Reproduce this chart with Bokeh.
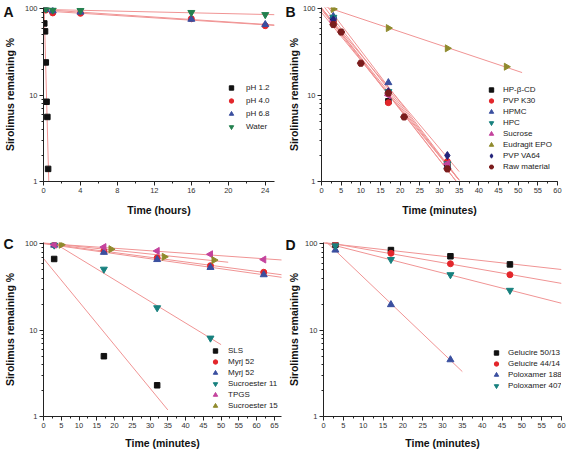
import numpy as np
from bokeh.plotting import figure
from bokeh.models import (Legend, LegendItem, Label, SingleIntervalTicker, FixedTicker,
                          NumeralTickFormatter)
from bokeh.layouts import column, row
from bokeh.embed import file_html
from bokeh.resources import INLINE

FONT = "Liberation Sans"
FIT = "#f09494"

# ---------------- data ----------------
# Panel A: time in hours
a_labels = ["pH 1.2", "pH 4.0", "pH 6.8", "Water"]
a_times = [[0.083, 0.167, 0.25, 0.333, 0.417, 0.5],
           [0.25, 1, 4, 16, 24],
           [0.25, 1, 4, 16, 24],
           [0.25, 1, 4, 16, 24]]
a_values = [[68, 55, 24, 8.4, 5.6, 1.4],
            [97, 90, 89, 77, 64],
            [99, 95, 92, 76, 66],
            [100, 97, 96, 91, 86]]
a_fit_end = [0.7, 25, 25, 25]

# Panel B: time in minutes
b_labels = ["HP-\u03b2-CD", "PVP K30", "HPMC", "HPC", "Sucrose", "Eudragit EPO", "PVP VA64", "Raw material"]
b_times = [[3, 17, 32], [3, 17, 32], [3, 17, 32], [3, 17, 32], [3, 17, 32],
           [3, 17, 32, 47], [3, 17, 32], [3, 5, 10, 17, 21, 32]]
b_values = [[76, 8.5, 1.5], [70, 8.2, 1.7], [82, 14, 1.5], [80, 11, 1.6], [72, 10, 1.6],
            [100, 60, 35, 21.4], [75, 11, 2.0], [66, 54, 23.5, 10.6, 5.6, 1.4]]
b_fit_end = [35, 35, 35, 35, 35, 51, 35, 35]

# Panel C
c_labels = ["SLS", "Myrj 52", "Myrj 52", "Sucroester 11", "TPGS", "Sucroester 15"]
c_times = [[3, 17, 32], [3, 17, 32, 47, 62], [3, 17, 32, 47, 62], [3, 17, 32, 47],
           [3, 17, 32, 47, 62], [5, 19, 34, 48]]
c_values = [[67, 5.0, 2.3], [98, 83, 69, 56, 47], [97, 80, 66, 53.5, 44], [97, 51, 18.2, 8.1],
            [98, 92, 83, 76, 66], [98, 87, 71, 65]]
c_fit_end = [35, 68, 68, 50, 68, 52]

# Panel D
d_labels = ["Gelucire 50/13", "Gelucire 44/14", "Poloxamer 188", "Poloxamer 407"]
d_times = [[3, 17, 32, 47], [3, 17, 32, 47], [3, 17, 32], [3, 17, 32, 47]]
d_values = [[98, 85, 72, 58], [99, 78, 59, 44], [85, 19.8, 4.55], [95, 66, 44, 29]]
d_fit_end = [60, 60, 35, 60]

# ---------------- styles ----------------
BLACK, RED, BLUE, TEAL = "#111111", "#e3262b", "#3a4f9f", "#17807e"
GREEN, MAG, OLIVE, NAVY, DRED = "#23804f", "#c4439d", "#8f8a2c", "#22227a", "#7b1c1c"
L, R = np.pi / 2, -np.pi / 2
STY = {
    "square": ("square", 0.0, 5.5),
    "circle": ("circle", 0.0, 6.0),
    "tri": ("triangle", 0.0, 7.0),
    "itri": ("inverted_triangle", 0.0, 7.0),
    "ltri": ("triangle", L, 7.0),
    "rtri": ("triangle", R, 7.0),
    "diamond": ("diamond", 0.0, 8.0),
    "hex": ("hex", 0.0, 7.0),
}
a_style = [("square", BLACK), ("circle", RED), ("tri", BLUE), ("itri", GREEN)]
b_style = [("square", BLACK), ("circle", RED), ("tri", BLUE), ("itri", TEAL), ("ltri", MAG),
           ("rtri", OLIVE), ("diamond", NAVY), ("hex", DRED)]
c_style = [("square", BLACK), ("circle", RED), ("tri", BLUE), ("itri", TEAL), ("ltri", MAG), ("rtri", OLIVE)]
d_style = [("square", BLACK), ("circle", RED), ("tri", BLUE), ("itri", TEAL)]


def make_panel(letter, letter_side, letter_xy, xlabel, xmax, interval, labels, times, values,
               fit_end, styles, width, height, bl, br, bt, bb, leg_x, leg_y, spacing, standoff,
               ylab_standoff, xlab_standoff, leg_font="8px"):
    p = figure(width=width, height=height, x_range=(0, xmax), y_range=(1, 104),
               y_axis_type="log", output_backend="svg", toolbar_location=None,
               min_border_left=bl, min_border_right=br, min_border_top=bt, min_border_bottom=bb)
    p.outline_line_color = None
    p.grid.visible = False
    p.xaxis.ticker = SingleIntervalTicker(interval=interval, num_minor_ticks=2)
    p.yaxis.ticker = FixedTicker(ticks=[1, 10, 100],
                                 minor_ticks=[m * d for d in (1, 10) for m in range(2, 10)])
    p.yaxis.formatter = NumeralTickFormatter(format="0")
    for ax in (p.xaxis, p.yaxis):
        ax.axis_line_color = "#222222"
        ax.major_tick_line_color = "#222222"
        ax.minor_tick_line_color = "#222222"
        ax.major_tick_in = 0
        ax.major_tick_out = 4
        ax.minor_tick_in = 0
        ax.minor_tick_out = 2
        ax.major_label_text_font = FONT
        ax.major_label_text_font_size = "7.5px"
        ax.major_label_text_color = "#333333"
        ax.major_label_standoff = 2
        ax.axis_label_text_font = FONT
        ax.axis_label_text_font_size = "10.5px"
        ax.axis_label_text_font_style = "bold"
        ax.axis_label_text_color = "#111111"
    p.yaxis.axis_label = "Sirolimus remaining %"
    p.yaxis.axis_label_standoff = ylab_standoff
    p.xaxis.axis_label = xlabel
    p.xaxis.axis_label_standoff = xlab_standoff

    for t, v, te in zip(times, values, fit_end):
        coef = np.polyfit(np.array(t, float), np.log10(np.array(v, float)), 1)
        xs = np.array([0.0, te])
        p.line(xs, 10 ** np.polyval(coef, xs), line_color=FIT, line_width=1)

    items = []
    for lab, t, v, (key, col) in zip(labels, times, values, styles):
        marker, ang, size = STY[key]
        r = p.scatter(t, v, marker=marker, angle=ang, size=size, fill_color=col, line_color=col)
        items.append(LegendItem(label=lab, renderers=[r]))

    leg = Legend(items=items, location=(leg_x, leg_y))
    leg.padding = 0
    leg.margin = 0
    leg.border_line_color = None
    leg.background_fill_alpha = 0
    leg.label_text_font = FONT
    leg.label_text_font_size = leg_font
    leg.label_text_color = "#222222"
    leg.glyph_width = 12
    leg.glyph_height = 11
    leg.label_height = 10
    leg.spacing = spacing
    leg.label_standoff = standoff
    p.add_layout(leg)

    p.add_layout(Label(x=letter_xy[0], y=letter_xy[1], x_units="canvas", y_units="canvas",
                       text=letter, text_font=FONT, text_font_size="14px",
                       text_font_style="bold", text_baseline="top", text_color="#111111"),
                 letter_side)
    return p


pA = make_panel("A", "right", (3, 3), "Time (hours)", 25, 4, a_labels, a_times, a_values,
                a_fit_end, a_style, 284, 226, 39, 7, 7, 45, 182, 49, 2, 9, 6, 8)
pB = make_panel("B", "right", (1, 3), "Time (minutes)", 60, 5, b_labels, b_times, b_values,
                b_fit_end, b_style, 285, 226, 32, 12, 5, 44, 164, 9, 0, 6, 0, 8)
pC = make_panel("C", "above", (3, 9), "Time (minutes)", 67, 5, c_labels, c_times, c_values,
                c_fit_end, c_style, 284, 226, 39, 3, 13, 35, 166, 5, 0, 7, 6, 6)
pD = make_panel("D", "above", (1, 10), "Time (minutes)", 60, 5, d_labels, d_times, d_values,
                d_fit_end, d_style, 285, 226, 36, 8, 13, 36, 167, 25, 0, 6, 2, 6)

layout = column(row(pA, pB), row(pC, pD))
open("out.html", "w").write(file_html(layout, INLINE))
